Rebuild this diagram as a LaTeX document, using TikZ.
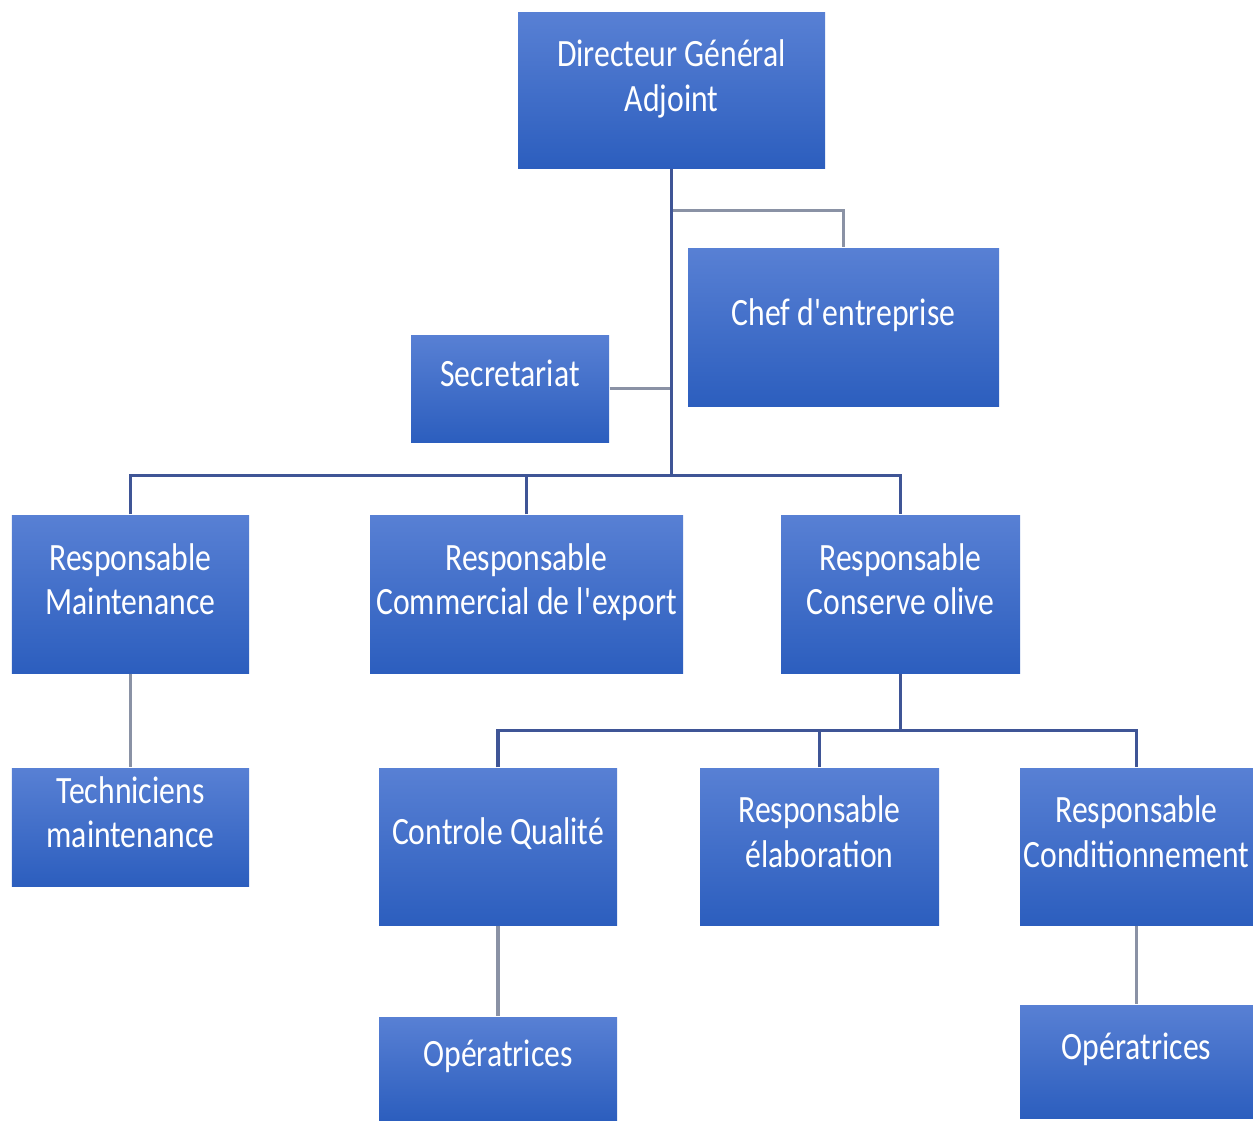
\documentclass[tikz,border=0pt]{standalone}
\usepackage{fontspec}
\setmainfont{Carlito}[FakeStretch=0.82]
\usepackage{tikz}
\usetikzlibrary{positioning, calc}
\definecolor{cBoxTop}{RGB}{88,128,212}
\definecolor{cBoxBottom}{RGB}{44,94,190}
\definecolor{cLineMain}{RGB}{63,85,150}
\definecolor{cLineSide}{RGB}{138,146,165}

\begin{document}
\begin{tikzpicture}[
    orgbox/.style={rectangle, top color=cBoxTop, bottom color=cBoxBottom, draw=none,
        text=white, align=center, inner sep=0pt, text depth=0.3cm,
        font=\fontsize{11}{12.6}\selectfont},
    lineMain/.style={draw=cLineMain, line width=1pt},
    lineSide/.style={draw=cLineSide, line width=1pt}]
    \useasboundingbox (0,0) rectangle (12.53,-11.2);

    % top
    \node[orgbox, minimum width=3.07cm, minimum height=1.55cm] (dga) at (6.715,-0.905) {Directeur Général\\Adjoint};
    \node[orgbox, minimum width=3.11cm, minimum height=1.58cm] (chef) at (8.435,-3.27) {Chef d\textquotesingle entreprise};
    \node[orgbox, minimum width=1.98cm, minimum height=1.07cm] (secr) at (5.10,-3.885) {Secretariat};

    % second level
    \node[orgbox, minimum width=2.37cm, minimum height=1.58cm] (maint) at (1.305,-5.94) {Responsable\\Maintenance};
    \node[orgbox, minimum width=3.13cm, minimum height=1.58cm] (comm) at (5.265,-5.94) {Responsable\\Commercial de l\textquotesingle export};
    \node[orgbox, minimum width=2.39cm, minimum height=1.58cm] (cons) at (9.005,-5.94) {Responsable\\Conserve olive};

    % third level
    \node[orgbox, minimum width=2.37cm, minimum height=1.18cm] (tech) at (1.305,-8.27) {Techniciens\\maintenance};
    \node[orgbox, minimum width=2.38cm, minimum height=1.57cm] (cq) at (4.98,-8.465) {Controle Qualité};
    \node[orgbox, minimum width=2.39cm, minimum height=1.57cm] (elab) at (8.195,-8.465) {Responsable\\élaboration};
    \node[orgbox, minimum width=2.33cm, minimum height=1.57cm] (cond) at (11.365,-8.465) {Responsable\\Conditionnement};

    % bottom
    \node[orgbox, minimum width=2.38cm, minimum height=1.03cm] (opqc) at (4.98,-10.685) {Opératrices};
    \node[orgbox, minimum width=2.33cm, minimum height=1.13cm] (opcond) at (11.365,-10.615) {Opératrices};

    % connectors
    \coordinate (hub) at ($(dga.south)+(0,-3.07)$);
    \coordinate (chefTap) at ($(dga.south)+(0,-0.42)$);
    \coordinate (consHub) at ($(cons.south)+(0,-0.57)$);

    \draw[lineSide] (chefTap) -| (chef.north);
    \draw[lineSide] (secr.east) -- (secr.east -| dga.south);
    \draw[lineMain] (dga.south) -- (hub);
    \draw[lineMain] (maint.north) |- (hub) -| (cons.north);
    \draw[lineMain] (comm.north) -- (comm.north |- hub);

    \draw[lineMain] (cons.south) -- (consHub);
    \draw[lineMain] (cq.north) |- (consHub) -| (cond.north);
    \draw[lineMain] (elab.north) -- (elab.north |- consHub);

    \draw[lineSide] (maint.south) -- (tech.north);
    \draw[lineSide] (cq.south) -- (opqc.north);
    \draw[lineSide] (cond.south) -- (opcond.north);
\end{tikzpicture}
\end{document}
